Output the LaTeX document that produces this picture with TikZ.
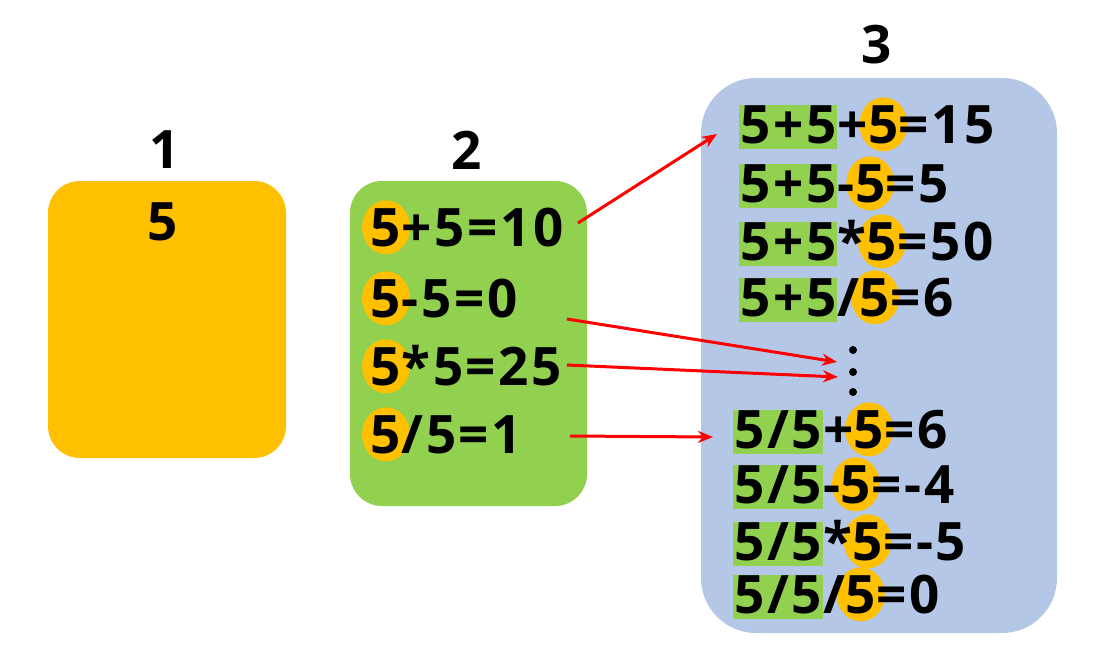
\documentclass[tikz,border=0pt]{standalone}
\usepackage{fontspec}
\setmainfont{Open Sans}[LetterSpace=5]
\usetikzlibrary{arrows.meta,positioning}
\definecolor{boxorange}{HTML}{FFC000}
\definecolor{boxgreen}{HTML}{92D050}
\definecolor{boxblue}{HTML}{B4C7E7}
\pgfdeclarelayer{boxes}
\pgfdeclarelayer{marks}
\pgfsetlayers{boxes,marks,main}

\begin{document}
\begin{tikzpicture}[x=1pt, y=-1pt,
  every node/.style={font=\bfseries\fontsize{53}{60}\selectfont, inner sep=0pt},
  term/.style={fill=boxgreen, text height=38pt, text depth=6pt, inner xsep=1pt},
  dot/.style={circle, fill=black, minimum size=8pt},
  link/.style={red, line width=3pt, -{Stealth[length=15pt, width=12pt]}}]
  \useasboundingbox (0,0) rectangle (1109,651);

  % Boxes
  \begin{pgfonlayer}{boxes}
    \fill[boxorange, rounded corners=32pt] (48,181) rectangle (286,458);
    \fill[boxgreen, rounded corners=32pt] (350,181) rectangle (587,506);
    \fill[boxblue, rounded corners=55pt] (701,78) rectangle (1057,633);
  \end{pgfonlayer}

  % Headings
  \node (h1) at (165,150) {1};
  \node (h2) at (467,150) {2};
  \node (h3) at (877,45) {3};
  \node (seed) at (163,222) {5};

  % Box 2 rows
  \foreach \i/\y/\op/\res in {1/246/+/10, 2/317/-/0, 3/385/*/25, 4/453/{/}/1} {
    \node[anchor=base] (p\i) at (386,\y) {5};
    \node[base right=0pt of p\i] (e\i) {\op5=\res};
    \begin{pgfonlayer}{marks}
      \fill[boxorange] (p\i) ellipse (24pt and 27pt);
    \end{pgfonlayer}
  }

  % Box 3 rows
  \foreach \i/\x/\y/\hl/\op/\res in {1/739/143/5+5/+/15, 2/739/202/5+5/-/5,
      3/739/260/5+5/*/50, 4/739/316/5+5/{/}/6, 5/733/448/{5/5}/+/6,
      6/733/503/{5/5}/-/-4, 7/733/560/{5/5}/*/-5, 8/733/613/{5/5}/{/}/0} {
    \node[term, anchor=base west] (g\i) at (\x,\y) {\hl};
    \node[base right=0pt of g\i] (o\i) {\op};
    \node[base right=0pt of o\i] (c\i) {5};
    \node[base right=0pt of c\i] (r\i) {=\res};
    \begin{pgfonlayer}{marks}
      \fill[boxorange] (c\i) ellipse (24pt and 27pt);
    \end{pgfonlayer}
  }

  % Dots
  \node[dot] (d1) at (853,350) {};
  \node[dot] (d2) at (853,372) {};
  \node[dot] (d3) at (853,392) {};

  % Arrows
  \coordinate (s1) at (578,223);
  \coordinate (t1) at (717,134);
  \coordinate (s2) at (567,319);
  \coordinate (t2) at (837,362);
  \coordinate (s3) at (567,365);
  \coordinate (t3) at (838,377);
  \coordinate (s4) at (570,436);
  \coordinate (t4) at (713,437);
  \foreach \i in {1,...,4}
    \draw[link] (s\i) -- (t\i);
\end{tikzpicture}
\end{document}
